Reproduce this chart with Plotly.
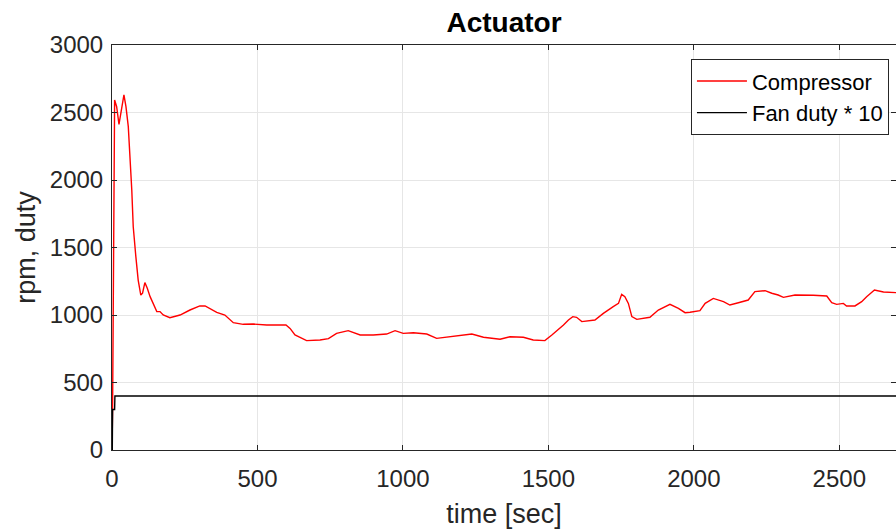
import plotly.graph_objects as go

# compressor speed [rpm]
comp_t = [0, 2, 9, 16, 24, 33, 41, 48, 56, 68, 73, 82, 90, 99, 105, 113, 121, 131, 142, 154,
          165, 176, 199, 234, 268, 302, 320, 337, 360, 388, 417, 451, 486, 532, 566, 598,
          612, 629, 669, 715, 744, 772, 812, 853, 898, 944, 973, 1001, 1036, 1082, 1116,
          1162, 1185, 1237, 1277, 1334, 1368, 1414, 1448, 1488, 1512, 1534, 1552, 1569,
          1584, 1597, 1615, 1660, 1689, 1723, 1741, 1752, 1763, 1775, 1787, 1804, 1849,
          1878, 1918, 1947, 1970, 1987, 2021, 2039, 2067, 2102, 2124, 2153, 2187, 2210,
          2245, 2268, 2290, 2308, 2348, 2411, 2457, 2474, 2491, 2514, 2525, 2554, 2577,
          2594, 2621, 2652, 2700]
comp_rpm = [0, 300, 2593, 2543, 2412, 2518, 2630, 2543, 2395, 1926, 1654, 1432, 1259, 1148,
            1161, 1240, 1200, 1136, 1088, 1025, 1025, 1000, 980, 1000, 1037, 1067, 1067,
            1049, 1020, 1000, 943, 931, 933, 926, 926, 926, 901, 852, 810, 815, 825, 864,
            884, 852, 852, 859, 884, 864, 869, 859, 827, 839, 844, 859, 835, 820, 839, 835,
            815, 810, 852, 889, 926, 963, 988, 983, 951, 963, 1012, 1062, 1086, 1153, 1136,
            1086, 988, 968, 983, 1037, 1079, 1049, 1017, 1020, 1032, 1086, 1123, 1099, 1074,
            1091, 1111, 1173, 1180, 1161, 1148, 1131, 1148, 1146, 1141, 1091, 1079, 1086,
            1067, 1067, 1099, 1136, 1185, 1170, 1165]

# fan duty * 10
fan_t = [0, 1, 2, 9, 10, 2700]
fan_duty = [0, 0, 300, 300, 400, 400]

x_ticks = [0, 500, 1000, 1500, 2000, 2500]
y_ticks = [0, 500, 1000, 1500, 2000, 2500, 3000]

FONT = "Liberation Sans, Arial, sans-serif"
AXCOL = "#262626"

fig = go.Figure()
fig.add_trace(go.Scatter(x=comp_t, y=comp_rpm, mode="lines", name="Compressor",
                         line=dict(color="#ff0000", width=1.4)))
fig.add_trace(go.Scatter(x=fan_t, y=fan_duty, mode="lines", name="Fan duty * 10",
                         line=dict(color="#000000", width=1.4)))

axis_style = dict(showline=True, linecolor=AXCOL, linewidth=1, mirror="ticks",
                  ticks="inside", ticklen=5, tickcolor=AXCOL,
                  showgrid=True, gridcolor="#e6e6e6", gridwidth=1, zeroline=False,
                  tickfont=dict(size=24, color=AXCOL, family=FONT))

fig.update_layout(
    width=896, height=529,
    margin=dict(l=112, r=0, t=45, b=79),
    paper_bgcolor="white", plot_bgcolor="white",
    font=dict(family=FONT, color=AXCOL),
    title=dict(text="<b>Actuator</b>", xref="paper", x=0.5, xanchor="center",
               y=0.958, yanchor="middle",
               font=dict(size=28, color="#000000", family=FONT)),
    xaxis=dict(range=[0, 2695], tickvals=x_ticks, ticklabelstandoff=7,
               title=dict(text="time [sec]", font=dict(size=27, family=FONT), standoff=18),
               **axis_style),
    yaxis=dict(range=[0, 3000], tickvals=y_ticks, ticklabelstandoff=3,
               title=dict(text="rpm, duty", font=dict(size=27, family=FONT), standoff=6),
               **axis_style),
    legend=dict(x=0.991, y=0.965, xanchor="right", yanchor="top",
                bgcolor="white", bordercolor=AXCOL, borderwidth=1,
                font=dict(size=22, color="#000000", family=FONT),
                tracegroupgap=0, itemwidth=50),
    showlegend=True,
)

# drop the default 8px page margin so the figure fills the window
fig.write_html("out.html",
               config={"displayModeBar": False},
               post_script="document.body.style.margin='0';"
                           "document.documentElement.style.overflow='hidden';")
